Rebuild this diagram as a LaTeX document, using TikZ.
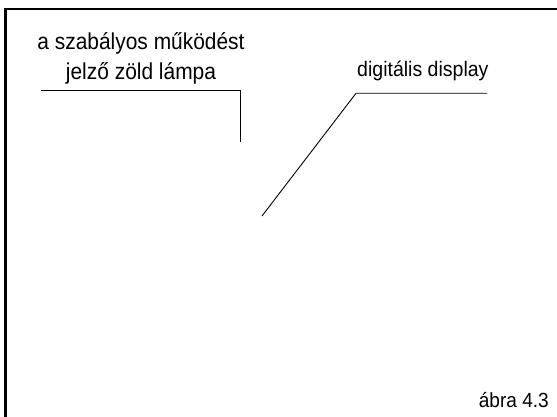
\documentclass[tikz,border=0pt]{standalone}
\usepackage{fontspec}
\setmainfont{Liberation Sans}
\newfontfamily\labelfont[FakeStretch=0.91]{Liberation Sans}
\newfontfamily\smallfont[FakeStretch=0.93]{Liberation Sans}
\begin{document}
\begin{tikzpicture}[x=1pt,y=-1pt,
  frameline/.style={line width=2.6pt,black},
  leader/.style={line width=0.9pt,black},
  biglabel/.style={font=\labelfont\fontsize{23}{30}\selectfont,inner sep=0pt,align=center},
  midlabel/.style={font=\smallfont\fontsize{21}{25}\selectfont,inner sep=0pt},
  caption/.style={font=\smallfont\fontsize{20.5}{24}\selectfont,inner sep=0pt}]
  \useasboundingbox (0,0) rectangle (557,417);
  % frame: only the top and left edges are drawn
  \draw[frameline] (4.2,9) -- (558,9);
  \draw[frameline] (5.4,7.8) -- (5.4,418);

  % labels (the base anchor of the two-line label sits on its last line)
  \node[biglabel,anchor=base] (lampa) at (141,80) {a szabályos működést\\jelző zöld lámpa};
  \node[midlabel,anchor=base west] (display) at (357,77) {digitális display};
  \node[caption,anchor=base east] (abra) at (549,407) {ábra 4.3};

  % leader line ends
  \coordinate (lampaA) at (41,90);
  \coordinate (lampaB) at (240,90);
  \coordinate (lampaC) at (240,142);
  \coordinate (dispA) at (487,93.3);
  \coordinate (dispB) at (356,93.3);
  \coordinate (dispC) at (262,216);

  \draw[leader] (lampaA) -- (lampaB) -- (lampaC);
  \draw[leader] (dispA) -- (dispB) -- (dispC);
\end{tikzpicture}
\end{document}
